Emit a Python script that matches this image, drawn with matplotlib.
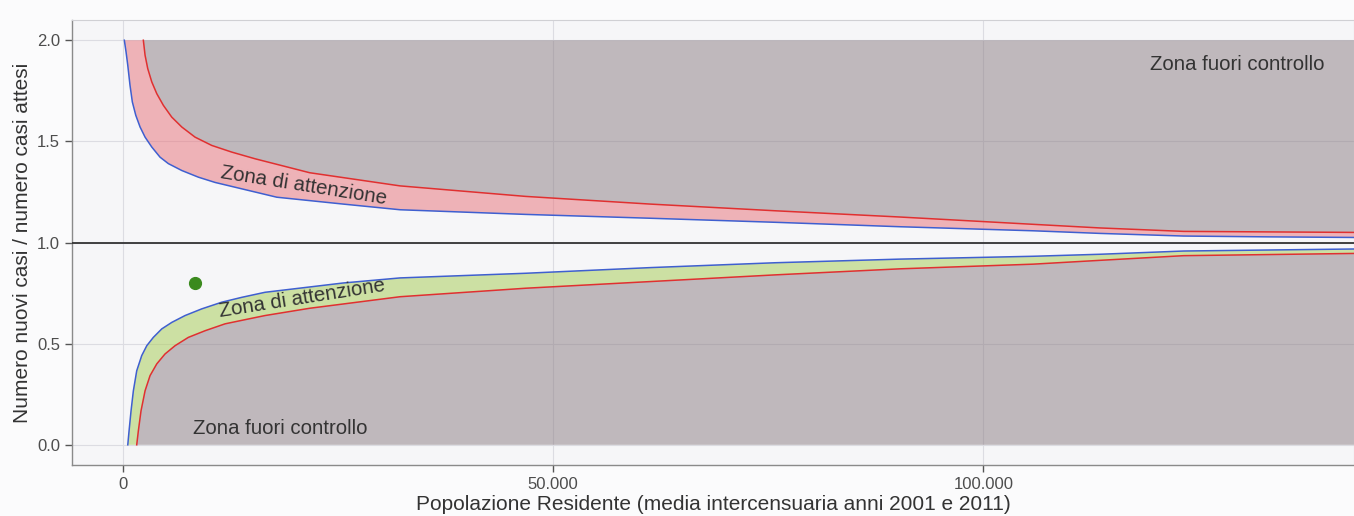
import matplotlib.pyplot as plt
from matplotlib.ticker import FuncFormatter

plt.rcParams['font.family'] = ['Liberation Sans', 'DejaVu Sans']

pop_up95 = [150, 350, 550, 810, 1080, 1480, 1980, 2560, 3340, 4300, 5270, 6830,
            8760, 10700, 17870, 25600, 32200, 46800, 61300, 75800, 90350,
            105800, 113600, 123300, 133000, 143100]
up95 = [2.0, 1.942, 1.876, 1.777, 1.695, 1.629, 1.571, 1.521, 1.472, 1.422, 1.39,
        1.356, 1.323, 1.297, 1.224, 1.19, 1.162, 1.139, 1.12, 1.10, 1.078,
        1.058, 1.045, 1.032, 1.028, 1.025]

pop_up998 = [2360, 2560, 2870, 3340, 3920, 4690, 5660, 6830, 8370, 10310, 12640,
             15350, 21700, 32200, 46800, 61300, 75800, 90350, 105800, 113600,
             123300, 143100]
up998 = [2.0, 1.926, 1.86, 1.794, 1.736, 1.678, 1.62, 1.571, 1.521, 1.48, 1.447,
         1.414, 1.345, 1.28, 1.228, 1.19, 1.157, 1.126, 1.09, 1.072,
         1.055, 1.05]

pop_lo95 = [550, 700, 930, 1200, 1590, 2170, 2760, 3520, 4500, 5660, 7210, 9150,
            11480, 13800, 16510, 25600, 32200, 46800, 61300, 75800, 90350,
            105800, 113600, 123300, 143100]
lo95 = [0.0, 0.069, 0.168, 0.267, 0.366, 0.441, 0.49, 0.531, 0.573, 0.605, 0.639,
        0.672, 0.705, 0.729, 0.754, 0.80, 0.825, 0.848, 0.876, 0.90, 0.918,
        0.932, 0.942, 0.958, 0.968]

pop_lo998 = [1590, 1780, 2090, 2560, 3140, 3920, 4880, 6050, 7590, 9540, 11860,
             14570, 16510, 21700, 32200, 46800, 61300, 75800, 90350, 105800,
             113600, 123300, 143100]
lo998 = [0.0, 0.069, 0.168, 0.267, 0.342, 0.40, 0.449, 0.49, 0.531, 0.564, 0.598,
         0.622, 0.639, 0.675, 0.732, 0.774, 0.807, 0.84, 0.87, 0.893,
         0.912, 0.935, 0.946]

# the one municipality
point_pop = [8370]
point_ratio = [0.80]

x_ticks = [0, 50000, 100000]
y_ticks = [0.0, 0.5, 1.0, 1.5, 2.0]

fig = plt.figure(figsize=(13.54, 5.16), dpi=100, facecolor='#fbfbfc')
ax = fig.add_axes([0.0532, 0.0988, 0.9468, 0.8624])
ax.set_facecolor('#f6f6f8')

x_end = pop_up998[-1]

# grey "out of control" zones
ax.fill(pop_up998 + [x_end, pop_up998[0]], up998 + [2.0, 2.0],
        color='#8a7c82', alpha=0.5, lw=0, zorder=1)
ax.fill(pop_lo998 + [x_end, pop_lo998[0]], lo998 + [0.0, 0.0],
        color='#8a7c82', alpha=0.5, lw=0, zorder=1)

# attention zones
ax.fill(pop_up95 + pop_up998[::-1], up95 + up998[::-1],
        color='#e87078', alpha=0.5, lw=0, zorder=1)
ax.fill(pop_lo95 + pop_lo998[::-1], lo95 + lo998[::-1],
        color='#abcf5d', alpha=0.55, lw=0, zorder=1)

ax.plot(pop_up95, up95, color='#3f5fd0', lw=1.1, zorder=3)
ax.plot(pop_lo95, lo95, color='#3f5fd0', lw=1.1, zorder=3)
ax.plot(pop_up998, up998, color='#e03030', lw=1.1, zorder=3)
ax.plot(pop_lo998, lo998, color='#e03030', lw=1.1, zorder=3)

ax.axhline(1.0, color='#333333', lw=1.3, zorder=4)

ax.plot(point_pop, point_ratio, 'o', color='#3b8a1e', markersize=8.5, zorder=5)

# zone labels
ax.text(129500, 1.88, 'Zona fuori controllo', fontsize=14.7, color='#333333',
        ha='center', va='center', zorder=6)
ax.text(18250, 0.08, 'Zona fuori controllo', fontsize=14.7, color='#333333',
        ha='center', va='center', zorder=6)
ax.text(21050, 1.282, 'Zona di attenzione', fontsize=14.7, color='#333333',
        ha='center', va='center', rotation=-9, rotation_mode='anchor', zorder=6)
ax.text(20800, 0.723, 'Zona di attenzione', fontsize=14.7, color='#333333',
        ha='center', va='center', rotation=9, rotation_mode='anchor', zorder=6)

ax.set_xlim(-5930, x_end)
ax.set_ylim(-0.1, 2.1)
ax.set_xticks(x_ticks)
ax.set_yticks(y_ticks)
ax.xaxis.set_major_formatter(FuncFormatter(lambda v, p: f'{int(v):,}'.replace(',', '.')))
ax.yaxis.set_major_formatter(FuncFormatter(lambda v, p: f'{v:.1f}'))
ax.grid(True, color='#dcdce2', lw=0.8, zorder=0)
ax.set_axisbelow(True)
ax.tick_params(colors='#555555', labelsize=12, length=5, width=1, labelcolor='#4d4d4d')

for side in ['left', 'bottom']:
    ax.spines[side].set_color('#8a8a8a')
    ax.spines[side].set_linewidth(1)
for side in ['top', 'right']:
    ax.spines[side].set_color('#d0d0d4')
    ax.spines[side].set_linewidth(0.8)

ax.set_xlabel('Popolazione Residente (media intercensuaria anni 2001 e 2011)',
              fontsize=15, color='#333333', labelpad=2)
ax.set_ylabel('Numero nuovi casi / numero casi attesi', fontsize=15,
              color='#333333', labelpad=4)

fig.savefig('out.png', dpi=100, facecolor=fig.get_facecolor())
